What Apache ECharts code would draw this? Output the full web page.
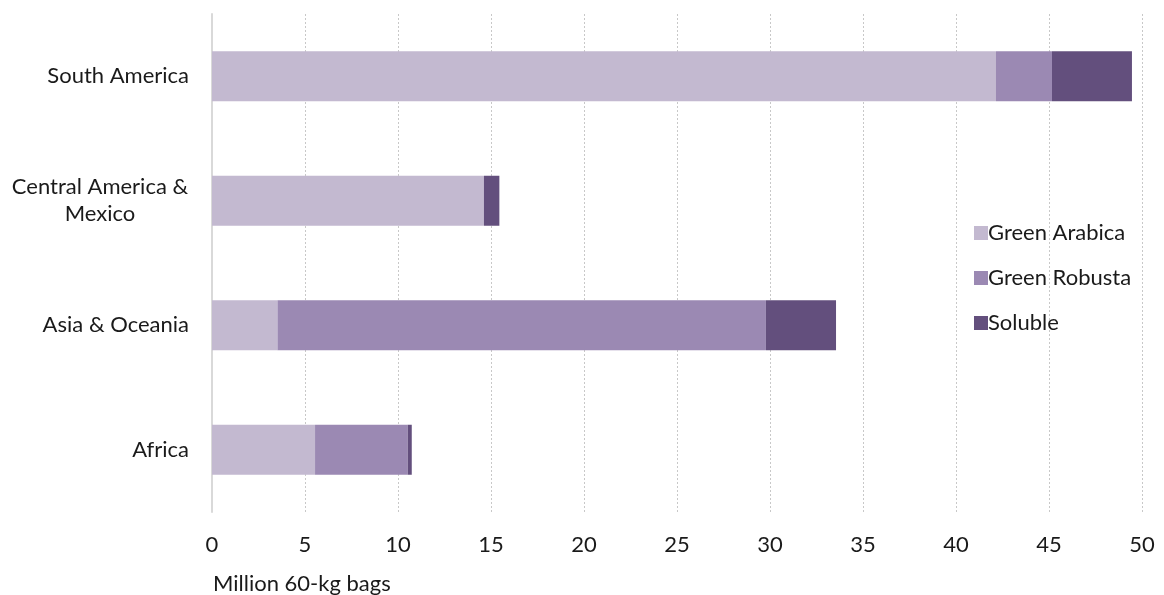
<!DOCTYPE html>
<html>
<head>
<meta charset="utf-8">
<script src="https://cdn.jsdelivr.net/npm/echarts@6/dist/echarts.min.js"></script>
<style>
html,body{margin:0;padding:0;background:#fff;}
#chart{width:1164px;height:595px;}
</style>
</head>
<body>
<div id="chart"></div>
<script>
const categories = ['Africa', 'Asia & Oceania', 'Central America & Mexico', 'South America'];
const greenArabica = [5.54, 3.52, 14.62, 42.15];
const greenRobusta = [4.98, 26.26, 0, 3.01];
const soluble = [0.22, 3.77, 0.83, 4.30];
const xTicks = [0, 5, 10, 15, 20, 25, 30, 35, 40, 45, 50];
const axisTitle = 'Million 60-kg bags';

const FONT = 'Lato';
const FS = 22;
const chart = echarts.init(document.getElementById('chart'));
chart.setOption({
  animation: false,
  textStyle: { fontFamily: FONT },
  grid: { left: 212, right: 22, top: 14, bottom: 83, containLabel: false },
  legend: {
    orient: 'vertical',
    left: 969,
    top: 217,
    itemWidth: 14,
    itemHeight: 14,
    itemGap: 23,
    icon: 'rect',
    textStyle: { fontFamily: FONT, fontSize: FS, lineHeight: 22, color: '#1a1a1a', padding: [0, 0, 0, -5] },
    data: ['Green Arabica', 'Green Robusta', 'Soluble']
  },
  xAxis: {
    type: 'value',
    min: xTicks[0],
    max: xTicks[xTicks.length - 1],
    interval: 5,
    axisLine: { show: false },
    axisTick: { show: false },
    axisLabel: { fontSize: FS, color: '#1a1a1a', margin: 22, fontFamily: FONT },
    splitLine: { show: true, lineStyle: { color: '#c8c8c8', type: [2, 2], width: 1 } }
  },
  yAxis: {
    type: 'category',
    data: categories,
    axisLine: { show: true, lineStyle: { color: '#d9d9d9', width: 2 } },
    axisTick: { show: false },
    axisLabel: {
      fontSize: FS, color: '#1a1a1a', margin: 23, fontFamily: FONT, lineHeight: 27,
      formatter: function (v) {
        if (v === 'Central America & Mexico') return '{c|Central America &}\n{c|Mexico}';
        return v;
      },
      rich: { c: { fontSize: FS, fontFamily: FONT, color: '#1a1a1a', width: 178, align: 'center', lineHeight: 27 } }
    }
  },
  graphic: [{
    type: 'text', left: 213, top: 573,
    style: { text: axisTitle, fontSize: FS, fontFamily: FONT, fill: '#1a1a1a' }
  }],
  series: [
    { name: 'Green Arabica', type: 'bar', stack: 's', barWidth: 50, data: greenArabica, itemStyle: { color: '#C3B9D0' } },
    { name: 'Green Robusta', type: 'bar', stack: 's', barWidth: 50, data: greenRobusta, itemStyle: { color: '#9B89B3' } },
    { name: 'Soluble', type: 'bar', stack: 's', barWidth: 50, data: soluble, itemStyle: { color: '#634F7D' } }
  ]
});
</script>
</body>
</html>
